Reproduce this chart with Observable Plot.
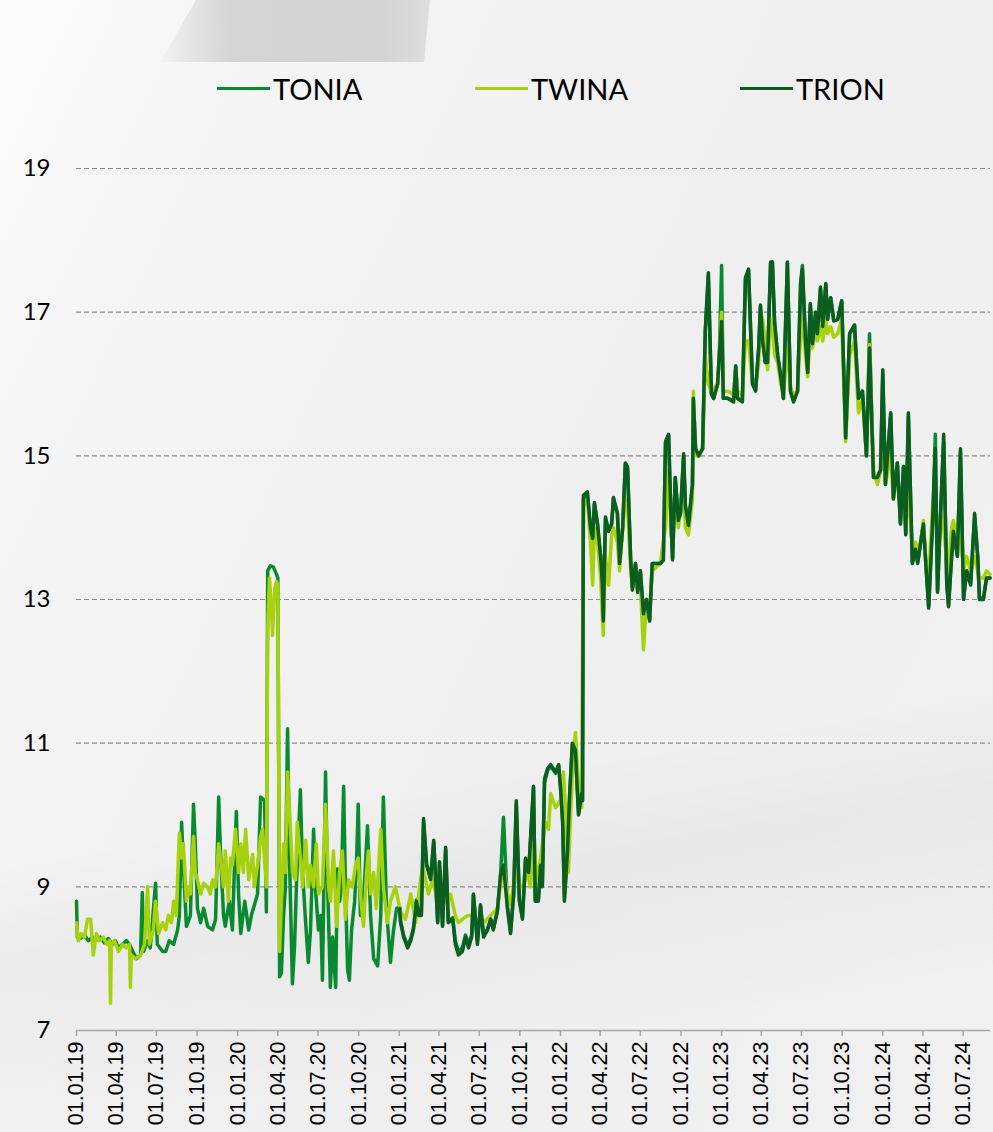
<!DOCTYPE html>
<html>
<head>
<meta charset="utf-8">
<script src="https://cdn.jsdelivr.net/npm/d3@7"></script>
<script src="https://cdn.jsdelivr.net/npm/@observablehq/plot@0.6"></script>
<style>
  html, body { margin: 0; padding: 0; }
  body { width: 993px; height: 1132px; overflow: hidden; position: relative;
    background: linear-gradient(115deg, #fbfbfb 0%, #f4f4f4 20%, #efefef 55%, #f0f0f0 100%); }
  #deco1 { position: absolute; left: 0; top: 0; width: 993px; height: 62px;
    background: linear-gradient(90deg, rgba(215,215,215,0) 150px, #d5d5d5 230px, #d3d3d3 380px, #dcdcdc 424px, #e6e6e6 440px);
    clip-path: polygon(196px 0, 430px 0, 424px 62px, 160px 62px); }
  #deco2 { position: absolute; left: 0; top: 0; width: 993px; height: 1132px;
    background: linear-gradient(170deg, rgba(0,0,0,0) 66%, rgba(0,0,0,0.03) 74%, rgba(0,0,0,0.0) 88%); }
  #chart { position: absolute; left: 0; top: 0; }
  #legend { position: absolute; top: 68px; left: 0; width: 993px; height: 40px;
    font-family: Lato, "Open Sans", sans-serif; font-size: 29px; color: #000; }
  .item { position: absolute; top: 0; height: 40px; display: flex; align-items: center; }
  .swatch { width: 53px; height: 3px; margin-right: 3px; }
</style>
</head>
<body>
<div id="deco1"></div>
<div id="deco2"></div>
<div id="chart"></div>
<div id="legend"></div>
<script>
// ---------- DATA ----------
const seriesNames = ["TONIA", "TWINA", "TRION"];
const seriesColors = ["#0a8a30", "#a6d10e", "#0b5e1f"];
const yTicks = [7, 9, 11, 13, 15, 17, 19];
const xTickDates = ["2019-01-01","2019-04-01","2019-07-01","2019-10-01","2020-01-01","2020-04-01","2020-07-01","2020-10-01",
  "2021-01-01","2021-04-01","2021-07-01","2021-10-01","2022-01-01","2022-04-01","2022-07-01","2022-10-01",
  "2023-01-01","2023-04-01","2023-07-01","2023-10-01","2024-01-01","2024-04-01","2024-07-01"];

// TONIA 2019-2020
const toniaEarlyDates = ["2019-01-01","2019-01-03","2019-01-10","2019-01-19","2019-01-28","2019-02-06","2019-02-15","2019-02-24",
  "2019-03-05","2019-03-14","2019-03-23","2019-03-30","2019-04-06","2019-04-15","2019-04-24","2019-05-01","2019-05-10","2019-05-17",
  "2019-05-26","2019-05-30","2019-06-02","2019-06-11","2019-06-17","2019-06-29","2019-07-03","2019-07-15","2019-07-22","2019-07-30",
  "2019-08-09","2019-08-18","2019-08-22","2019-08-27","2019-08-31","2019-09-07","2019-09-16","2019-09-23","2019-09-27","2019-10-02",
  "2019-10-09","2019-10-16","2019-10-25","2019-11-05","2019-11-12","2019-11-19","2019-11-23","2019-11-30","2019-12-04","2019-12-13",
  "2019-12-20","2019-12-29","2020-01-03","2020-01-08","2020-01-17","2020-01-26","2020-02-01","2020-02-08","2020-02-15","2020-02-22",
  "2020-03-02","2020-03-06","2020-03-09","2020-03-15","2020-03-22","2020-03-29","2020-04-01","2020-04-05","2020-04-09","2020-04-14",
  "2020-04-18","2020-04-23","2020-04-27","2020-05-04","2020-05-09","2020-05-13","2020-05-22","2020-05-27","2020-06-03","2020-06-09",
  "2020-06-14","2020-06-21","2020-06-25","2020-07-02","2020-07-07","2020-07-11","2020-07-18","2020-07-22","2020-07-29","2020-08-03",
  "2020-08-10","2020-08-14","2020-08-19","2020-08-23","2020-08-28","2020-09-01","2020-09-06","2020-09-10","2020-09-15","2020-09-22",
  "2020-09-26","2020-09-30","2020-10-05","2020-10-12","2020-10-21","2020-10-28","2020-11-04","2020-11-13","2020-11-20","2020-11-26",
  "2020-12-03","2020-12-12","2020-12-19","2020-12-26"];
const toniaEarly = [8.80,8.30,8.28,8.33,8.25,8.30,8.26,8.30,
  8.22,8.28,8.20,8.25,8.15,8.20,8.25,8.20,8.08,8.00,
  8.05,8.92,8.10,8.25,8.15,9.05,8.20,8.10,8.10,8.25,
  8.20,8.40,8.60,9.90,9.30,8.45,8.60,10.15,9.60,8.70,
  8.50,8.70,8.45,8.40,8.55,10.25,9.50,8.60,8.45,8.80,
  8.40,10.05,8.90,8.35,8.80,8.40,8.60,8.75,8.90,10.25,
  10.20,8.65,13.40,13.47,13.45,13.35,13.30,7.75,7.80,8.60,
  9.00,11.20,9.50,7.65,8.20,9.00,10.35,9.20,8.50,7.95,
  8.40,9.80,9.00,8.40,8.60,7.70,10.60,9.20,7.60,8.30,
  7.60,9.25,8.80,9.00,10.40,9.00,7.85,7.70,8.40,8.80,
  9.30,10.15,8.60,8.80,9.85,8.60,8.00,7.90,8.60,10.25,
  8.70,7.95,8.40,8.70];

// Dates shared by TRION and TONIA from 2021
const lateDates = ["2021-01-02","2021-01-04","2021-01-11","2021-01-20","2021-01-27","2021-02-02","2021-02-09","2021-02-14","2021-02-20",
  "2021-02-25","2021-03-04","2021-03-13","2021-03-20","2021-03-29","2021-04-02","2021-04-09","2021-04-16","2021-04-22","2021-05-02",
  "2021-05-08","2021-05-15","2021-05-24","2021-05-31","2021-06-07","2021-06-14","2021-06-18","2021-06-27","2021-07-04","2021-07-11",
  "2021-07-20","2021-07-27","2021-08-02","2021-08-11","2021-08-18","2021-08-25","2021-09-03","2021-09-10","2021-09-17","2021-09-23",
  "2021-09-30","2021-10-07","2021-10-14","2021-10-21","2021-11-01","2021-11-05","2021-11-12","2021-11-17","2021-11-21","2021-11-26",
  "2021-12-03","2021-12-10","2021-12-21","2021-12-28","2022-01-01","2022-01-06","2022-01-10","2022-01-17","2022-01-22","2022-01-28",
  "2022-02-04","2022-02-11","2022-02-18","2022-02-20","2022-02-22","2022-03-03","2022-03-10","2022-03-15","2022-03-19","2022-03-26",
  "2022-04-02","2022-04-06","2022-04-08","2022-04-13","2022-04-20","2022-04-27","2022-05-01","2022-05-10","2022-05-15","2022-05-22",
  "2022-05-28","2022-06-02","2022-06-09","2022-06-13","2022-06-20","2022-06-25","2022-07-01","2022-07-08","2022-07-15","2022-07-22",
  "2022-07-28","2022-08-04","2022-08-15","2022-08-22","2022-08-27","2022-09-03","2022-09-09","2022-09-12","2022-09-18","2022-09-25",
  "2022-09-30","2022-10-07","2022-10-11","2022-10-18","2022-10-27","2022-10-29","2022-11-03","2022-11-10","2022-11-19","2022-11-25",
  "2022-12-02","2022-12-09","2022-12-14","2022-12-23","2022-12-27","2023-01-01","2023-01-05","2023-01-15","2023-01-28","2023-02-02",
  "2023-02-06","2023-02-17","2023-02-24","2023-03-03","2023-03-12","2023-03-19","2023-03-26","2023-03-30","2023-04-04","2023-04-10",
  "2023-04-15","2023-04-22","2023-04-26","2023-05-01","2023-05-08","2023-05-15","2023-05-21","2023-05-30","2023-06-06","2023-06-13",
  "2023-06-22","2023-06-29","2023-07-03","2023-07-10","2023-07-15","2023-07-21","2023-07-26","2023-08-02","2023-08-06","2023-08-13",
  "2023-08-18","2023-08-25","2023-08-29","2023-09-05","2023-09-12","2023-09-21","2023-09-30","2023-10-09","2023-10-18","2023-10-29",
  "2023-11-07","2023-11-16","2023-11-25","2023-12-02","2023-12-11","2023-12-20","2023-12-27","2024-01-01","2024-01-07","2024-01-19",
  "2024-01-25","2024-02-03","2024-02-10","2024-02-17","2024-02-22","2024-02-28","2024-03-08","2024-03-15","2024-03-20","2024-03-27",
  "2024-04-02","2024-04-09","2024-04-14","2024-04-23","2024-04-29","2024-05-04","2024-05-11","2024-05-18","2024-05-25","2024-05-29",
  "2024-06-05","2024-06-09","2024-06-18","2024-06-25","2024-07-02","2024-07-09","2024-07-18","2024-07-27","2024-08-03","2024-08-07",
  "2024-08-16","2024-08-23","2024-08-31"];
const trionValues = [8.70,8.50,8.30,8.15,8.25,8.40,8.80,8.60,8.60,
  9.95,9.30,9.10,9.65,8.50,9.35,8.45,9.55,8.50,8.55,
  8.20,8.05,8.10,8.30,8.15,8.30,8.90,8.20,8.75,8.30,
  8.40,8.55,8.40,8.65,9.15,9.30,8.70,8.35,8.90,10.20,
  8.80,8.55,9.40,9.20,10.40,8.80,8.80,9.30,9.00,10.50,
  10.65,10.70,10.60,10.70,10.40,9.90,8.80,9.50,10.30,11.00,
  10.90,10.00,10.30,10.20,14.45,14.50,14.00,13.85,14.35,14.05,
  13.60,13.20,12.70,14.15,13.95,14.05,14.42,14.20,13.50,14.00,
  14.90,14.85,13.55,13.13,13.50,13.10,13.40,12.80,13.00,12.70,
  13.50,13.50,13.50,13.55,15.20,15.30,14.00,13.55,14.70,14.10,
  14.20,15.03,14.30,14.03,14.60,15.80,15.10,15.00,15.10,16.75,
  17.55,15.86,15.80,16.00,16.42,16.87,15.80,15.80,15.75,16.25,
  15.80,15.75,17.48,17.60,16.00,15.90,16.50,17.10,16.60,16.30,
  16.30,17.70,17.70,16.85,16.40,16.10,15.80,17.70,15.90,15.75,
  15.90,17.40,17.60,16.60,16.16,17.12,16.56,17.00,16.70,17.35,
  16.80,17.40,16.90,17.20,16.88,16.90,17.16,15.25,16.70,16.82,
  15.80,15.90,15.00,16.50,14.70,14.70,14.80,16.20,14.60,15.60,
  14.40,14.90,14.05,14.85,13.90,15.60,13.50,13.70,13.50,13.80,
  14.05,13.35,12.88,14.10,15.10,13.10,14.20,15.30,13.20,12.90,
  13.60,13.95,13.60,15.10,13.00,13.40,13.20,14.20,13.60,13.00,
  13.00,13.30,13.30];
const toniaLate = [8.72,8.52,8.32,8.18,8.28,8.42,8.82,8.62,8.62,
  9.90,9.32,9.12,9.62,8.52,9.33,8.47,9.52,8.52,8.57,
  8.25,8.10,8.15,8.33,8.20,8.33,8.88,8.25,8.72,8.32,
  8.42,8.55,8.42,8.66,9.12,9.97,8.72,8.38,8.88,10.15,
  8.82,8.58,9.38,9.20,10.38,8.82,8.82,9.30,9.02,10.45,
  10.62,10.68,10.58,10.68,10.40,9.92,8.85,9.50,10.28,10.98,
  10.88,10.02,10.30,10.20,14.40,14.48,14.00,13.85,14.33,14.05,
  13.60,13.22,12.72,14.12,13.95,14.05,14.40,14.20,13.52,14.00,
  14.88,14.83,13.57,13.15,13.50,13.12,13.40,12.82,13.00,12.72,
  13.50,13.50,13.50,13.55,15.18,15.28,14.00,13.57,14.70,14.10,
  14.20,15.00,14.30,14.05,14.60,15.78,15.10,15.00,15.10,16.70,
  17.50,15.86,15.80,16.00,16.42,17.65,15.80,15.80,15.77,16.25,
  15.80,15.77,17.45,17.58,16.00,15.92,16.50,17.08,16.60,16.30,
  16.30,17.68,17.70,16.85,16.40,16.10,15.80,17.68,15.90,15.77,
  15.90,17.40,17.65,16.60,16.18,17.10,16.56,17.00,16.70,17.33,
  16.80,17.38,16.90,17.20,16.88,16.90,17.15,15.25,16.70,16.82,
  15.80,15.90,15.00,16.70,14.70,14.72,14.80,16.15,14.62,15.58,
  14.42,14.90,14.07,14.85,13.92,15.55,13.52,13.70,13.52,13.80,
  14.05,13.37,12.90,14.10,15.30,13.12,14.20,15.20,13.22,12.92,
  13.60,13.95,13.62,15.05,13.02,13.40,13.22,14.15,13.60,13.02,
  13.02,13.30,13.30];

// TWINA full period
const twinaDates = ["2019-01-01","2019-01-05","2019-01-12","2019-01-19","2019-01-26","2019-02-02","2019-02-08","2019-02-15","2019-02-22",
  "2019-03-03","2019-03-10","2019-03-17","2019-03-19","2019-03-21","2019-03-28","2019-04-06","2019-04-15","2019-04-24","2019-05-01",
  "2019-05-03","2019-05-05","2019-05-15","2019-05-26","2019-06-04","2019-06-11","2019-06-15","2019-06-24","2019-06-29","2019-07-06",
  "2019-07-15","2019-07-22","2019-07-28","2019-08-04","2019-08-09","2019-08-15","2019-08-22","2019-08-27","2019-08-31","2019-09-07",
  "2019-09-12","2019-09-16","2019-09-23","2019-09-27","2019-10-02","2019-10-09","2019-10-16","2019-10-25","2019-10-31","2019-11-05",
  "2019-11-12","2019-11-19","2019-11-25","2019-11-30","2019-12-04","2019-12-11","2019-12-16","2019-12-20","2019-12-27","2020-01-03",
  "2020-01-08","2020-01-14","2020-01-19","2020-01-26","2020-02-04","2020-02-08","2020-02-15","2020-02-22","2020-02-26","2020-03-04",
  "2020-03-06","2020-03-09","2020-03-13","2020-03-18","2020-03-20","2020-03-25","2020-03-29","2020-04-01","2020-04-05","2020-04-09",
  "2020-04-14","2020-04-18","2020-04-23","2020-04-30","2020-05-04","2020-05-11","2020-05-15","2020-05-22","2020-05-27","2020-06-03",
  "2020-06-09","2020-06-14","2020-06-21","2020-06-27","2020-07-02","2020-07-11","2020-07-18","2020-07-25","2020-07-29","2020-08-05",
  "2020-08-12","2020-08-19","2020-08-25","2020-09-01","2020-09-08","2020-09-17","2020-09-24","2020-09-30","2020-10-05","2020-10-12",
  "2020-10-19","2020-10-23","2020-10-28","2020-11-04","2020-11-10","2020-11-20","2020-11-26","2020-12-05","2020-12-12","2020-12-23",
  "2021-01-04","2021-01-15","2021-01-27","2021-02-07","2021-02-14","2021-02-23","2021-03-08","2021-03-17","2021-03-29","2021-04-09",
  "2021-04-20","2021-04-27","2021-05-08","2021-05-15","2021-05-24","2021-06-05","2021-06-18","2021-06-29","2021-07-11","2021-07-27",
  "2021-08-11","2021-08-18","2021-08-25","2021-09-03","2021-09-10","2021-09-21","2021-09-30","2021-10-07","2021-10-18","2021-10-25",
  "2021-11-01","2021-11-08","2021-11-17","2021-11-28","2021-12-05","2021-12-10","2021-12-21","2022-01-01","2022-01-08","2022-01-13",
  "2022-01-19","2022-01-24","2022-01-31","2022-02-04","2022-02-11","2022-02-18","2022-02-22","2022-03-03","2022-03-10","2022-03-15",
  "2022-03-19","2022-03-26","2022-04-02","2022-04-08","2022-04-13","2022-04-20","2022-04-27","2022-05-01","2022-05-10","2022-05-15",
  "2022-05-22","2022-05-28","2022-06-02","2022-06-09","2022-06-13","2022-06-20","2022-06-25","2022-07-01","2022-07-08","2022-07-15",
  "2022-07-22","2022-07-28","2022-08-15","2022-08-27","2022-09-03","2022-09-09","2022-09-18","2022-09-25","2022-10-07","2022-10-11",
  "2022-10-18","2022-10-27","2022-10-29","2022-11-03","2022-11-10","2022-11-19","2022-11-25","2022-12-02","2022-12-09","2022-12-23",
  "2022-12-27","2023-01-01","2023-01-05","2023-01-15","2023-01-28","2023-02-02","2023-02-06","2023-02-17","2023-02-24","2023-03-03",
  "2023-03-12","2023-03-19","2023-03-26","2023-03-30","2023-04-04","2023-04-10","2023-04-15","2023-04-22","2023-04-26","2023-05-01",
  "2023-05-08","2023-05-15","2023-05-21","2023-05-30","2023-06-06","2023-06-13","2023-06-22","2023-06-29","2023-07-03","2023-07-10",
  "2023-07-15","2023-07-21","2023-07-26","2023-08-02","2023-08-06","2023-08-13","2023-08-18","2023-08-25","2023-08-29","2023-09-05",
  "2023-09-12","2023-09-21","2023-09-30","2023-10-09","2023-10-18","2023-10-29","2023-11-07","2023-11-16","2023-11-25","2023-12-02",
  "2023-12-11","2023-12-20","2023-12-27","2024-01-01","2024-01-07","2024-01-19","2024-01-25","2024-02-03","2024-02-10","2024-02-17",
  "2024-02-22","2024-02-28","2024-03-08","2024-03-15","2024-03-20","2024-03-27","2024-04-02","2024-04-09","2024-04-14","2024-04-23",
  "2024-04-29","2024-05-04","2024-05-11","2024-05-18","2024-05-25","2024-05-29","2024-06-05","2024-06-09","2024-06-18","2024-06-25",
  "2024-07-02","2024-07-09","2024-07-18","2024-07-27","2024-08-03","2024-08-07","2024-08-16","2024-08-23","2024-08-31"];
const twinaValues = [8.50,8.25,8.35,8.30,8.55,8.55,8.05,8.35,8.25,
  8.30,8.20,8.25,7.38,8.20,8.25,8.10,8.20,8.15,8.20,
  7.60,8.05,8.00,8.05,8.20,9.00,8.20,8.40,8.80,8.35,
  8.50,8.40,8.60,8.50,8.80,8.60,9.75,9.40,9.60,8.80,
  9.00,8.90,9.70,9.20,9.10,8.90,9.05,9.00,8.90,9.10,
  9.00,9.60,9.30,9.00,9.50,8.80,9.40,9.30,9.80,9.20,
  9.60,9.20,9.80,9.10,9.45,9.00,9.30,9.70,9.80,9.20,
  9.00,12.60,13.30,12.80,12.50,13.15,13.25,13.20,8.10,8.80,
  9.60,9.20,10.60,9.75,9.20,9.10,9.90,9.40,9.00,9.65,
  9.00,9.30,9.00,9.60,8.90,9.00,10.15,9.00,8.80,9.50,
  8.45,9.20,9.50,8.55,9.10,9.00,9.30,9.40,8.90,8.45,
  9.20,9.50,8.90,9.20,8.70,9.80,9.00,8.50,8.80,9.00,
  8.65,8.55,8.90,8.50,8.90,9.30,8.90,9.10,8.80,9.00,
  8.80,8.90,8.60,8.50,8.55,8.60,8.60,8.50,8.50,8.60,
  8.70,9.00,9.30,8.90,8.75,9.20,9.00,9.00,9.20,9.00,
  9.60,9.10,9.40,9.90,9.80,10.30,10.10,10.20,10.60,10.00,
  9.20,10.00,10.90,11.15,10.40,10.10,14.30,14.40,13.80,13.20,
  14.00,13.80,13.30,12.50,13.60,13.20,13.90,14.00,13.80,13.40,
  14.00,14.40,14.30,13.40,13.20,13.30,13.10,13.20,12.30,13.00,
  12.90,13.40,13.50,14.00,14.80,13.90,14.40,14.00,14.60,14.00,
  13.90,14.40,15.90,15.00,15.00,15.10,16.40,16.00,15.90,16.00,
  16.40,17.00,15.90,15.90,15.85,16.20,15.90,15.85,16.60,16.60,
  16.00,15.95,16.30,17.00,16.90,16.60,16.20,16.90,16.80,16.40,
  16.30,16.00,15.85,16.50,15.95,15.85,15.90,16.70,16.90,16.40,
  16.10,16.70,16.50,16.80,16.60,16.80,16.60,16.90,16.70,16.80,
  16.65,16.70,16.90,15.20,16.40,16.60,15.60,15.80,15.00,16.55,
  14.80,14.60,14.80,15.20,14.60,15.00,14.40,14.70,14.20,14.60,
  14.00,14.50,13.70,13.80,13.70,13.80,14.10,13.40,13.30,14.30,
  14.50,13.60,14.20,14.00,13.50,13.40,14.00,14.10,13.80,13.90,
  13.40,13.60,13.40,13.60,13.40,13.30,13.30,13.40,13.35];

// ---------- BUILD ----------
const parse = d3.utcParse("%Y-%m-%d");
const tonia = toniaEarlyDates.map((d, i) => ({date: parse(d), value: toniaEarly[i], series: "TONIA"}))
  .concat(lateDates.map((d, i) => ({date: parse(d), value: toniaLate[i], series: "TONIA"})));
const twina = twinaDates.map((d, i) => ({date: parse(d), value: twinaValues[i], series: "TWINA"}));
const trion = lateDates.map((d, i) => ({date: parse(d), value: trionValues[i], series: "TRION"}));
const xTicks = xTickDates.map(parse);

const chart = Plot.plot({
  width: 993,
  height: 1132,
  marginLeft: 76,
  marginRight: 3,
  marginTop: 168,
  marginBottom: 102,
  style: {background: "transparent", overflow: "visible"},
  x: {type: "utc", domain: [parse("2019-01-01"), parse("2024-09-01")]},
  y: {domain: [7, 19]},
  color: {domain: seriesNames, range: seriesColors},
  marks: [
    Plot.gridY(yTicks.filter(d => d > 7), {stroke: "#8c8c8c", strokeOpacity: 1, strokeDasharray: "5,3", strokeWidth: 1.1}),
    Plot.axisY({ticks: yTicks, tickSize: 0, tickPadding: 26, fontSize: 24, fill: "#000",
      fontFamily: "Lato, 'Open Sans', sans-serif", label: null}),
    Plot.ruleY([7], {stroke: "#a6a6a6", strokeWidth: 1.5}),
    Plot.axisX({ticks: xTicks, tickFormat: d3.utcFormat("%d.%m.%y"), tickRotate: -90, tickSize: 6,
      stroke: "#a6a6a6", strokeWidth: 1.5, fontSize: 21.5, fill: "#000", tickPadding: 5,
      fontFamily: "'Liberation Sans', Arial, sans-serif", label: null}),
    Plot.line(tonia, {x: "date", y: "value", stroke: "series", strokeWidth: 3.5, strokeLinejoin: "round"}),
    Plot.line(twina, {x: "date", y: "value", stroke: "series", strokeWidth: 3.5, strokeLinejoin: "round"}),
    Plot.line(trion, {x: "date", y: "value", stroke: "series", strokeWidth: 3.5, strokeLinejoin: "round"})
  ]
});
document.getElementById("chart").appendChild(chart);

// ---------- LEGEND ----------
const legendX = [217, 475, 740];
const legend = document.getElementById("legend");
seriesNames.forEach((name, i) => {
  const item = document.createElement("div");
  item.className = "item";
  item.style.left = legendX[i] + "px";
  const sw = document.createElement("div");
  sw.className = "swatch";
  sw.style.background = seriesColors[i];
  const label = document.createElement("span");
  label.textContent = name;
  item.appendChild(sw);
  item.appendChild(label);
  legend.appendChild(item);
});
</script>
</body>
</html>
